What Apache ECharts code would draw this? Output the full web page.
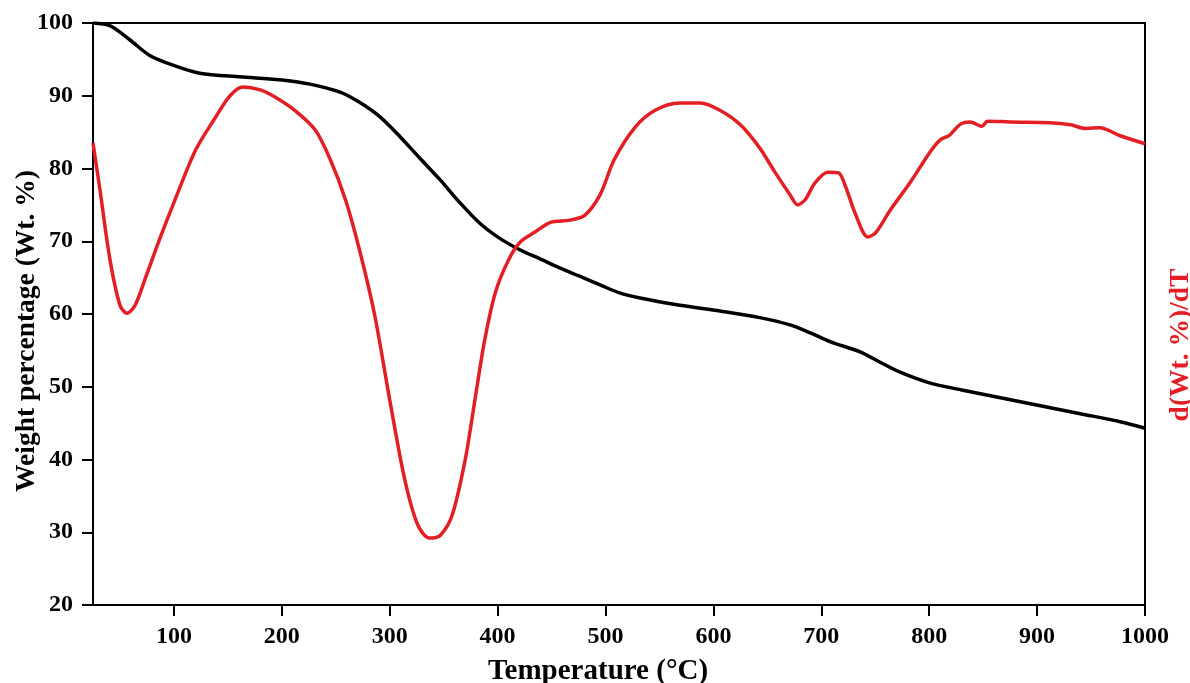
<!DOCTYPE html>
<html><head><meta charset="utf-8">
<script src="https://cdn.jsdelivr.net/npm/echarts@6/dist/echarts.min.js"></script>
<style>html,body{margin:0;padding:0;background:#fff}#c{width:1190px;height:683px}</style>
</head><body><div id="c"></div>
<script>
const xTicks = [100,200,300,400,500,600,700,800,900,1000];
const yTicks = [20,30,40,50,60,70,80,90,100];
const tgaTemp = [25,41,59,78,101,124,161,198,226,254,272,291,310,328,347,365,384,402,421,439,458,476,495,513,532,569,606,643,671,690,708,736,754,773,801,829,866,903,940,977,1000];
const tgaWeight = [100,99.6,97.7,95.5,94.1,93.1,92.6,92.2,91.6,90.5,89.1,87.1,84.3,81.4,78.4,75.3,72.4,70.4,68.8,67.6,66.3,65.2,64.0,62.9,62.2,61.2,60.4,59.5,58.5,57.4,56.2,54.8,53.4,52.0,50.5,49.6,48.5,47.4,46.3,45.2,44.3];
const dtgTemp = [25,31.5,40.8,50,56.5,64,73,87,101,120,138,152,164,180,194,212,231,245,259,272,286,300,314,326,337,347,358,370,379,388,398,410,421,435,449,467,481,495,508,527,546,569,588,606,625,643,657,671,678,685,694,706,716,722,732,743,750,764,782,801,810,819,829,838,849,854,875,912,931,945,958,977,1000];
const dtgValue = [83.5,77,67.4,61.2,60.1,61.2,64.7,70.4,75.7,82.5,86.9,90,91.2,90.8,89.8,88,85.3,81.2,75.7,68.8,59.9,48.2,37.2,31,29.2,29.6,32.4,40,48.2,56.4,63,67.4,69.9,71.3,72.6,72.9,73.6,76.4,81.2,85.6,88,89,89,88,86,82.8,79.5,76.4,75,75.7,78,79.5,79.4,77.7,73.6,70.6,71.1,74.3,78,82.3,83.9,84.6,86.1,86.4,85.8,86.5,86.4,86.3,86,85.5,85.6,84.5,83.4];

const font = 'Liberation Serif, Times New Roman, serif';
const chart = echarts.init(document.getElementById('c'));
chart.setOption({
  animation: false,
  grid: {left: 93, right: 45, top: 23, bottom: 78, outerBoundsMode: 'none', containLabel: false,
         show: true, borderColor: '#000', borderWidth: 2, backgroundColor: 'transparent'},
  xAxis: {
    type: 'value', min: 25, max: 1000,
    name: 'Temperature (\u00B0C)', nameLocation: 'middle', nameGap: 52, nameMoveOverlap: false,
    nameTextStyle: {fontFamily: font, fontWeight: 'bold', fontSize: 29, color: '#000', padding: [0, 42, 0, 0]},
    axisLine: {show: true, lineStyle: {color: '#000', width: 2}},
    axisTick: {show: true, inside: false, length: 11, lineStyle: {color: '#000', width: 2}, customValues: xTicks},
    axisLabel: {customValues: xTicks, formatter: v => String(v), fontFamily: font, fontWeight: 'bold', fontSize: 24, color: '#000', margin: 20},
    splitLine: {show: false}
  },
  yAxis: [{
    type: 'value', min: 20, max: 100, interval: 10,
    name: 'Weight percentage (Wt. %)', nameLocation: 'middle', nameGap: 52, nameRotate: 90, nameMoveOverlap: false,
    nameTextStyle: {fontFamily: font, fontWeight: 'bold', fontSize: 27.5, color: '#000', padding: [0, 34, 0, 0]},
    axisLine: {show: true, lineStyle: {color: '#000', width: 2}},
    axisTick: {show: true, inside: false, length: 11, lineStyle: {color: '#000', width: 2}},
    axisLabel: {formatter: v => String(v), fontFamily: font, fontWeight: 'bold', fontSize: 24, color: '#000', margin: 20},
    splitLine: {show: false}
  }, {
    type: 'value', min: 20, max: 100, position: 'right',
    name: 'd(Wt. %)/dT', nameLocation: 'middle', nameGap: 22, nameRotate: 90, nameMoveOverlap: false,
    nameTextStyle: {fontFamily: font, fontWeight: 'bold', fontSize: 27.5, color: '#e31e24', padding: [0, 62, 0, 0]},
    axisLine: {show: true, lineStyle: {color: '#000', width: 2}},
    axisTick: {show: false}, axisLabel: {show: false}, splitLine: {show: false}
  }],
  series: [{
    type: 'line', yAxisIndex: 0, smooth: 0.3, symbol: 'none',
    lineStyle: {color: '#000', width: 3.5},
    data: tgaTemp.map((t, i) => [t, tgaWeight[i]])
  }, {
    type: 'line', yAxisIndex: 1, smooth: 0.3, symbol: 'none',
    lineStyle: {color: '#e31e24', width: 3.5},
    data: dtgTemp.map((t, i) => [t, dtgValue[i]])
  }]
});
</script></body></html>
